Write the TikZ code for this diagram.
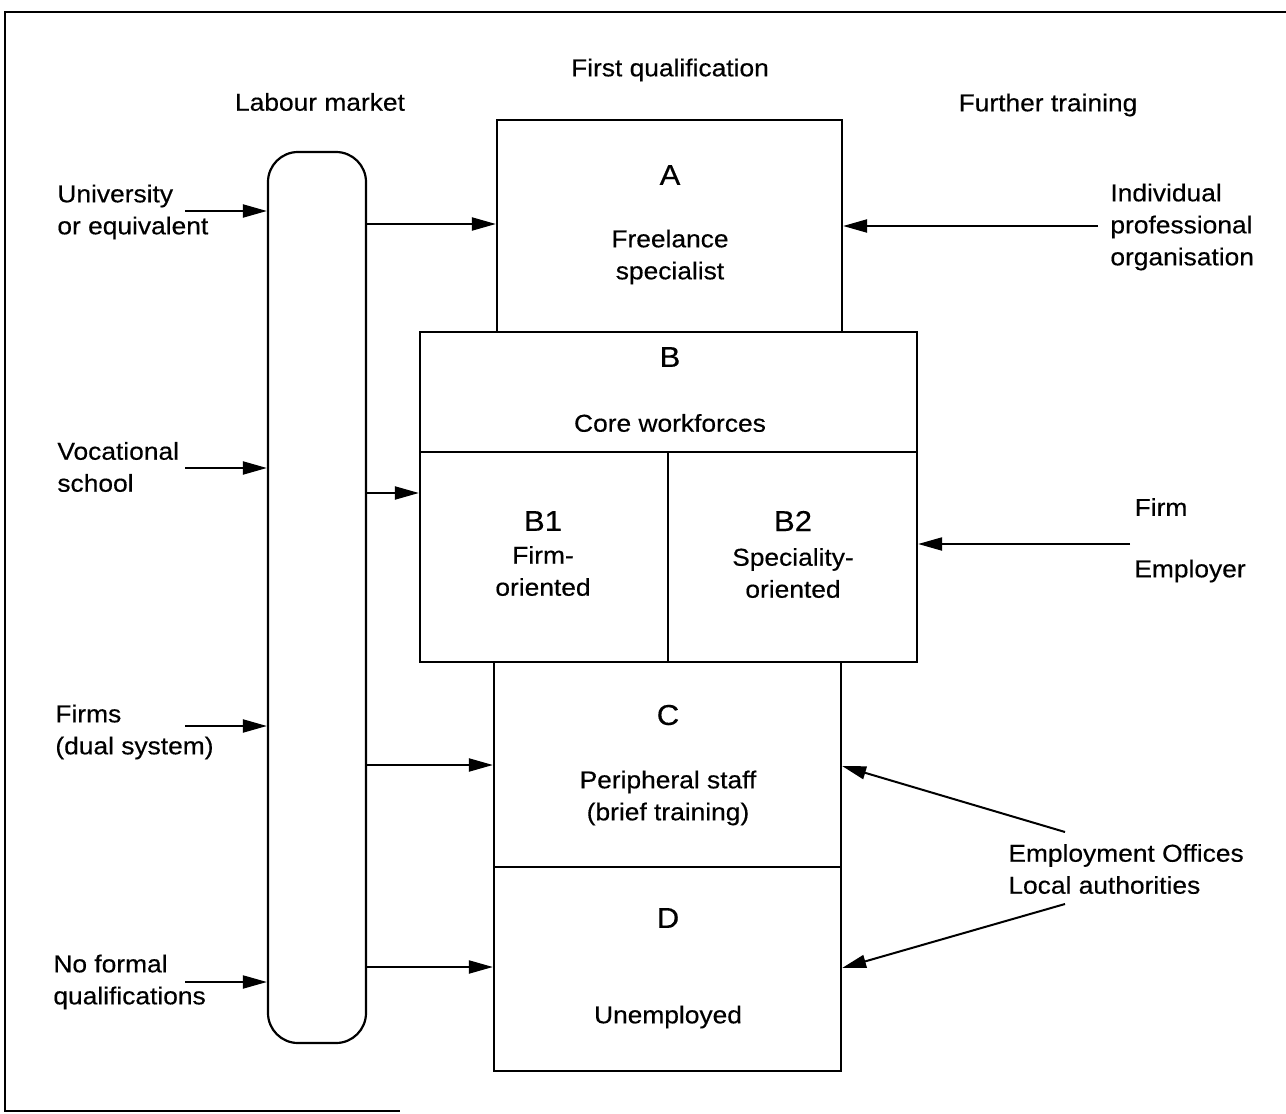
\documentclass[tikz,border=0pt]{standalone}
\usepackage{fontspec}
\setmainfont{Liberation Sans}[FakeStretch=1.08, FakeBold=0.4]
\usetikzlibrary{arrows.meta}
\begin{document}
\begin{tikzpicture}[x=0.5pt,y=-0.5pt,
  every node/.style={font=\fontsize{12.2}{16}\selectfont, inner sep=0pt},
  letter/.style={font=\fontsize{14.4}{16}\selectfont},
  box/.style={draw, line width=1.1pt},
  arr/.style={line width=1pt, -{Triangle[length=12pt,width=6.5pt]}},
  lab/.style={align=left, anchor=west},
  mid/.style={align=center}]
\useasboundingbox (0,0) rectangle (1286,1114);

% outer frame (open on the right)
\draw[line width=1pt] (1286,12) -- (5,12) -- (5,1111) -- (400,1111);

% column headings
\node (hFirst) at (670,70) {First qualification};
\node (hLabour) at (320,102) {Labour market};
\node (hFurther) at (1048,105) {Further training};

% labour market pool
\node[box, rounded corners=15pt, minimum width=49pt, minimum height=445.5pt] (lm) at (317,597.5) {};

% qualification boxes
\node[box, minimum width=172.5pt, minimum height=106pt] (A) at (669.5,226) {};
\node[box, minimum width=248.5pt, minimum height=165pt] (B) at (668.5,497) {};
\node[box, minimum width=124pt, minimum height=105pt] (B1) at (544,557) {};
\node[box, minimum width=124.5pt, minimum height=105pt] (B2) at (792.5,557) {};
\node[box, minimum width=173.5pt, minimum height=102.5pt] (C) at (667.5,764.5) {};
\node[box, minimum width=173.5pt, minimum height=102pt] (D) at (667.5,969) {};

% box texts
\node[letter] (tA) at (670,175) {A};
\node[mid] (tA2) at (670,257) {Freelance\\specialist};
\node[letter] (tB) at (670,357) {B};
\node (tB2) at (670,423) {Core workforces};
\node[letter] (tB1) at (543,521) {B1};
\node[mid] (tB1b) at (543,571) {Firm-\\oriented};
\node[letter] (tB2l) at (793,521) {B2};
\node[mid] (tB2b) at (793,573) {Speciality-\\oriented};
\node[letter] (tC) at (668,715) {C};
\node[mid] (tC2) at (668,798) {Peripheral staff\\(brief training)};
\node[letter] (tD) at (668,918) {D};
\node (tD2) at (668,1017) {Unemployed};

% sources of first qualification
\node[lab] (uni) at (57,212) {University\\or equivalent};
\node[lab] (voc) at (57,467) {Vocational\\school};
\node[lab] (firms) at (55,732) {Firms\\(dual system)};
\node[lab] (nof) at (53,982) {No formal\\qualifications};

% providers of further training
\node[lab] (indiv) at (1110,227) {Individual\\professional\\organisation};
\node (firm) at (1161,507) {Firm};
\node (empl) at (1190,571) {Employer};
\node[lab] (offices) at (1008,869) {Employment Offices\\Local authorities};

% arrow tails
\coordinate (uT) at (185,211);
\coordinate (vT) at (185,468);
\coordinate (fT) at (185,726);
\coordinate (nT) at (185,982);
\coordinate (iT) at (1098,226);
\coordinate (eT) at (1130,544);
\coordinate (oT1) at (1065,832);
\coordinate (oT2) at (1065,904);

% into the labour market
\draw[arr] (uT) -- (uT -| lm.west);
\draw[arr] (vT) -- (vT -| lm.west);
\draw[arr] (fT) -- (fT -| lm.west);
\draw[arr] (nT) -- (nT -| lm.west);

% labour market to positions
\draw[arr] (lm.east |- 0,224) -- (A.west |- 0,224);
\draw[arr] (lm.east |- 0,493) -- (B.west |- 0,493);
\draw[arr] (lm.east |- 0,765) -- (C.west |- 0,765);
\draw[arr] (lm.east |- 0,967) -- (D.west |- 0,967);

% further training
\draw[arr] (iT) -- (iT -| A.east);
\draw[arr] (eT) -- (eT -| B.east);
\draw[arr] (oT1) -- (C.east |- 0,766);
\draw[arr] (oT2) -- (D.east |- 0,968);
\end{tikzpicture}
\end{document}
